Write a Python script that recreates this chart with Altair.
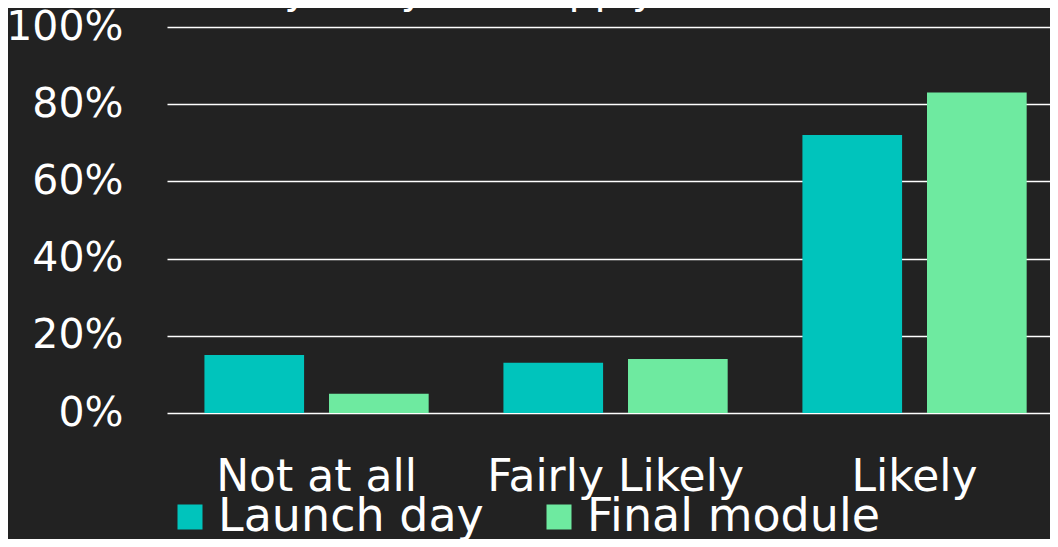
import altair as alt
import pandas as pd

categories = ["Not at all", "Fairly Likely", "Likely"]
series = ["Launch day", "Final module"]
launch_day = [0.15, 0.13, 0.72]
final_module = [0.05, 0.14, 0.83]
y_ticks = [0, 0.2, 0.4, 0.6, 0.8, 1.0]
title_text = "How likely are you to apply"

rows = []
for c, a, b in zip(categories, launch_day, final_module):
    rows.append({"category": c, "series": series[0], "value": a})
    rows.append({"category": c, "series": series[1], "value": b})
df = pd.DataFrame(rows)

FONT = "DejaVu Sans"
BG = "#222222"

bars = alt.Chart(df).mark_bar().encode(
    x=alt.X("category:N", sort=categories,
            scale=alt.Scale(paddingInner=0.25, paddingOuter=0.1016, align=0.616),
            axis=alt.Axis(title=None, labelAngle=0, labelFontSize=44, labelColor="white",
                          labelFont=FONT, labelPadding=77, labelBaseline="alphabetic",
                          labelLimit=500, ticks=False, domain=False, grid=False)),
    xOffset=alt.XOffset("series:N", sort=series,
                        scale=alt.Scale(paddingInner=0.2, paddingOuter=0)),
    y=alt.Y("value:Q", scale=alt.Scale(domain=[0, 1], nice=False),
            axis=alt.Axis(title=None, values=y_ticks, format=".0%", labelFontSize=41,
                          labelColor="white", labelFont=FONT, labelPadding=44,
                          ticks=False, domain=False, grid=True, gridColor="white",
                          gridWidth=1.6, gridOpacity=1)),
    color=alt.Color("series:N", sort=series,
                    scale=alt.Scale(domain=series, range=["#00C4BC", "#6EEAA0"]),
                    legend=alt.Legend(title=None, orient="none", legendX=0, legendY=467,
                                      direction="horizontal", symbolType="square",
                                      symbolSize=625, symbolStrokeWidth=0,
                                      labelFontSize=46, labelColor="white", labelFont=FONT,
                                      labelOffset=5, columnPadding=52, labelLimit=600)),
)

title = alt.Chart(pd.DataFrame({"t": [title_text]})).mark_text(
    align="left", baseline="alphabetic", fontSize=41, font=FONT, color="white"
).encode(
    text="t:N",
    x=alt.value(-67),
    y=alt.value(-24),
)

chart = alt.layer(bars, title).properties(
    width=883, height=386,
    background=BG,
    padding={"left": 159, "top": 19, "right": 0, "bottom": 126},
    autosize=alt.AutoSizeParams(type="none"),
).configure_view(stroke=None)

chart.save("out.html", embed_options={"renderer": "svg", "actions": False})
